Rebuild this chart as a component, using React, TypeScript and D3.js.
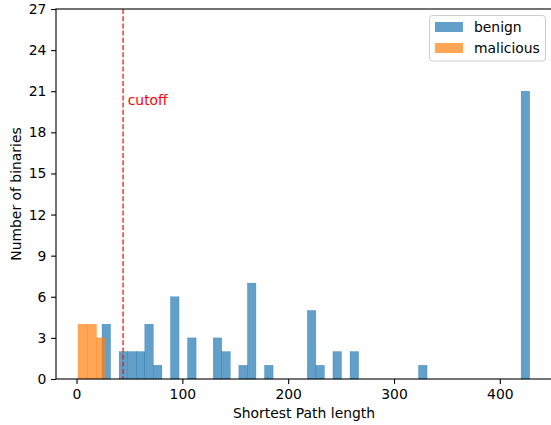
import * as d3 from 'd3';
import React, { useRef, useEffect } from 'react';

// histogram counts
const benignRange = [24.1, 428.2];
const benignCounts = [4, 0, 2, 2, 2, 4, 1, 0, 6, 0, 3, 0, 0, 3, 2, 0, 1, 7, 0, 1,
  0, 0, 0, 0, 5, 1, 0, 2, 0, 2, 0, 0, 0, 0, 0, 0, 0, 1, 0, 0,
  0, 0, 0, 0, 0, 0, 0, 0, 0, 21];
const maliciousRange = [1.4, 27.6];
const maliciousCounts = [4, 4, 3];
const cutoff = 44;
const xTicks = [0, 100, 200, 300, 400];
const yTicks = [0, 3, 6, 9, 12, 15, 18, 21, 24, 27];
const seriesNames = ['benign', 'malicious'];

const W = 551, H = 425;
const margin = { top: 9, right: -1, bottom: 46, left: 56 };
const font = 'DejaVu Sans';
const fs = 13.9;
const blue = 'rgba(31,119,180,0.7)';
const orange = 'rgba(255,127,14,0.7)';

function toBins(range: number[], counts: number[]) {
  const w = (range[1] - range[0]) / counts.length;
  return counts.map((c, i) => ({ x0: range[0] + i * w, x1: range[0] + (i + 1) * w, n: c }));
}

function App() {
  const ref = useRef<SVGSVGElement>(null);

  useEffect(() => {
    draw();
  });

  const draw = () => {
    const svg = d3.select(ref.current);
    svg.selectAll('*').remove();

    const x = d3.scaleLinear().domain([-19.4, 449.3]).range([margin.left, W - margin.right]);
    const y = d3.scaleLinear().domain([0, 27]).range([H - margin.bottom, margin.top]);

    const barg = svg.append('g');
    const drawBars = (bins: any[], color: string) => {
      barg.append('g')
        .selectAll('rect')
        .data(bins.filter((d) => d.n > 0))
        .enter()
        .append('rect')
        .attr('x', (d) => x(d.x0))
        .attr('width', (d) => x(d.x1) - x(d.x0))
        .attr('y', (d) => y(d.n))
        .attr('height', (d) => y(0) - y(d.n))
        .attr('fill', color)
        .attr('stroke', color)
        .attr('stroke-width', 0.4);
    };
    drawBars(toBins(benignRange, benignCounts), blue);
    drawBars(toBins(maliciousRange, maliciousCounts), orange);

    // cutoff line + label
    svg.append('line')
      .attr('x1', x(cutoff)).attr('x2', x(cutoff))
      .attr('y1', y(27)).attr('y2', y(0))
      .attr('stroke', 'red').attr('stroke-opacity', 0.8)
      .attr('stroke-width', 1.5)
      .attr('stroke-dasharray', '5,2.2');
    svg.append('text')
      .attr('x', x(cutoff + 4.4)).attr('y', y(20))
      .attr('fill', 'red')
      .style('font-family', font).style('font-size', fs + 'px')
      .text('cutoff');

    const xAxis = d3.axisBottom(x).tickValues(xTicks).tickSize(4.9).tickPadding(4.8).tickSizeOuter(0);
    const yAxis = d3.axisLeft(y).tickValues(yTicks).tickSize(4.9).tickPadding(4.8).tickSizeOuter(0);

    const gx = svg.append('g')
      .attr('transform', `translate(0,${H - margin.bottom})`)
      .call(xAxis);
    const gy = svg.append('g')
      .attr('transform', `translate(${margin.left},0)`)
      .call(yAxis);
    [gx, gy].forEach((g) => {
      g.selectAll('text').style('font-family', font).style('font-size', fs + 'px').attr('fill', '#000');
      g.selectAll('line').attr('stroke', '#000').attr('stroke-width', 1.1);
      g.select('.domain').remove();
    });

    // spines (right one falls just outside the picture)
    const spines = svg.append('g').attr('stroke', '#000').attr('stroke-width', 1.1).attr('fill', 'none');
    spines.append('rect')
      .attr('x', margin.left).attr('y', margin.top)
      .attr('width', W + 3 - margin.left)
      .attr('height', H - margin.bottom - margin.top);

    svg.append('text')
      .attr('x', (x.range()[0] + x.range()[1]) / 2).attr('y', 418)
      .attr('text-anchor', 'middle')
      .style('font-family', font).style('font-size', fs + 'px')
      .text('Shortest Path length');
    svg.append('text')
      .attr('transform', `translate(21,${(y.range()[0] + y.range()[1]) / 2}) rotate(-90)`)
      .attr('text-anchor', 'middle')
      .style('font-family', font).style('font-size', fs + 'px')
      .text('Number of binaries');

    // legend
    const lg = svg.append('g');
    lg.append('rect')
      .attr('x', 429.5).attr('y', 15.5).attr('width', 116).attr('height', 45.5)
      .attr('rx', 3).attr('fill', 'white').attr('fill-opacity', 0.8)
      .attr('stroke', '#cccccc').attr('stroke-width', 1);
    seriesNames.forEach((name, i) => {
      lg.append('rect')
        .attr('x', 435).attr('y', 22 + i * 21).attr('width', 28).attr('height', 10)
        .attr('fill', i === 0 ? blue : orange);
      lg.append('text')
        .attr('x', 474).attr('y', 32 + i * 21)
        .style('font-family', font).style('font-size', fs + 'px')
        .text(name);
    });
  };

  return (
    <div className="chart">
      <svg ref={ref} width={W} height={H} style={{ position: 'absolute', left: 0, top: 0, background: 'white' }}>
      </svg>
    </div>
  );
}

export default App;
